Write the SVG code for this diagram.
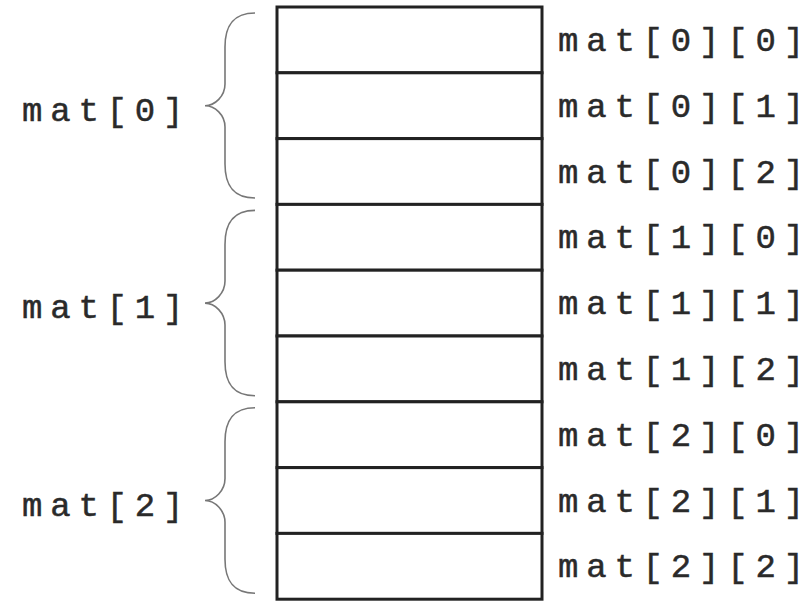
<svg xmlns="http://www.w3.org/2000/svg" width="812" height="602" viewBox="0 0 812 602">
<style>
.cell{fill:#fff;stroke:#222;stroke-width:3}
.lbl{font-family:"Liberation Mono","Courier New",monospace;font-size:34px;letter-spacing:7.8px;fill:#2a2a2a;stroke:#2a2a2a;stroke-width:0.5}
.brace{fill:none;stroke:#777;stroke-width:1.6}
</style>
<rect width="812" height="602" fill="#fff"/>
<g id="cells">
<g id="cell00"><rect class="cell" x="277" y="7" width="265" height="65.8"/><text class="lbl" x="558" y="51">mat[0][0]</text></g>
<g id="cell01"><rect class="cell" x="277" y="72.8" width="265" height="65.8"/><text class="lbl" x="558" y="116.8">mat[0][1]</text></g>
<g id="cell02"><rect class="cell" x="277" y="138.6" width="265" height="65.8"/><text class="lbl" x="558" y="182.6">mat[0][2]</text></g>
<g id="cell10"><rect class="cell" x="277" y="204.4" width="265" height="65.8"/><text class="lbl" x="558" y="248.4">mat[1][0]</text></g>
<g id="cell11"><rect class="cell" x="277" y="270.2" width="265" height="65.8"/><text class="lbl" x="558" y="314.2">mat[1][1]</text></g>
<g id="cell12"><rect class="cell" x="277" y="336" width="265" height="65.8"/><text class="lbl" x="558" y="380">mat[1][2]</text></g>
<g id="cell20"><rect class="cell" x="277" y="401.8" width="265" height="65.8"/><text class="lbl" x="558" y="445.8">mat[2][0]</text></g>
<g id="cell21"><rect class="cell" x="277" y="467.6" width="265" height="65.8"/><text class="lbl" x="558" y="511.6">mat[2][1]</text></g>
<g id="cell22"><rect class="cell" x="277" y="533.4" width="265" height="65.8"/><text class="lbl" x="558" y="577.4">mat[2][2]</text></g>
</g>
<g id="row0"><path class="brace" d="M255 13 C232 13 225 27 225 47 L225 84 C225 96 215 105.7 205 105.7 C215 105.7 225 115 225 127 L225 164 C225 184 232 198 255 198"/><text class="lbl" x="22" y="120.7">mat[0]</text></g>
<g id="row1"><path class="brace" d="M255 210.4 C232 210.4 225 224.4 225 244.4 L225 281.1 C225 293.1 215 303.1 205 303.1 C215 303.1 225 313.1 225 325.1 L225 361.8 C225 381.8 232 395.8 255 395.8"/><text class="lbl" x="22" y="318.1">mat[1]</text></g>
<g id="row2"><path class="brace" d="M255 407.8 C232 407.8 225 421.8 225 441.8 L225 478.5 C225 490.5 215 500.5 205 500.5 C215 500.5 225 510.5 225 522.5 L225 559.2 C225 579.2 232 593.2 255 593.2"/><text class="lbl" x="22" y="515.5">mat[2]</text></g>
</svg>
